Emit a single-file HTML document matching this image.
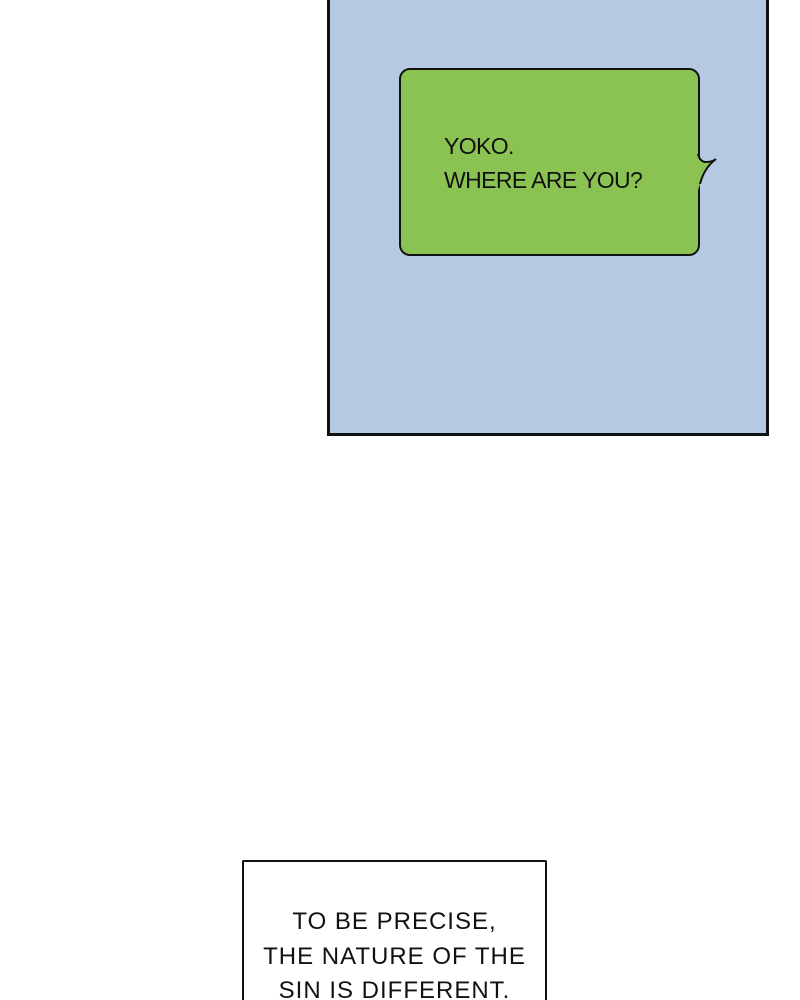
<!DOCTYPE html>
<html style="overflow:hidden;width:800px;height:1000px"><head><style>
html,body{margin:0;padding:0}
body{width:800px;height:1000px;background:#fff;overflow:hidden;font-family:"Liberation Sans",sans-serif}
.wrap{position:relative;width:800px;height:1000px;overflow:hidden}
.panel{position:absolute;left:327px;top:-5px;width:436px;height:435px;background:#b5c9e2;border:3px solid #111}
.bub{position:absolute;left:399px;top:68px;width:297px;height:184px;background:#8bc352;border:2px solid #111;border-radius:11px}
.t1{position:absolute;left:444px;top:129px;font-size:23px;line-height:34px;color:#111;letter-spacing:-0.6px}
.box{position:absolute;left:242px;top:860px;width:301px;height:138px;border:2px solid #111;border-bottom:none;background:#fff;border-radius:2px 2px 0 0}
.t2{position:absolute;left:242px;width:305px;top:905px;height:95px;overflow:hidden;text-align:center;font-size:24px;line-height:34.5px;color:#111;letter-spacing:1px}
</style></head><body><div class="wrap">
<div class="panel"></div>
<div class="bub"></div>
<svg style="position:absolute;left:690px;top:150px" width="40" height="50"><path d="M8 5 Q10 12 16 12 Q22 12 26 9 Q14 18 10 34 L8 40 L2 40 L2 5 Z" fill="#8bc352"/><path d="M8 4 Q10 12 16 12 Q22 12 26 9 Q14 18 10 34" fill="none" stroke="#111" stroke-width="2"/></svg>
<div class="t1">YOKO.<br>WHERE ARE YOU?</div>
<div class="box"></div>
<div class="t2">TO BE PRECISE,<br>THE NATURE OF THE<br>SIN IS DIFFERENT.</div>
</div></body></html>
